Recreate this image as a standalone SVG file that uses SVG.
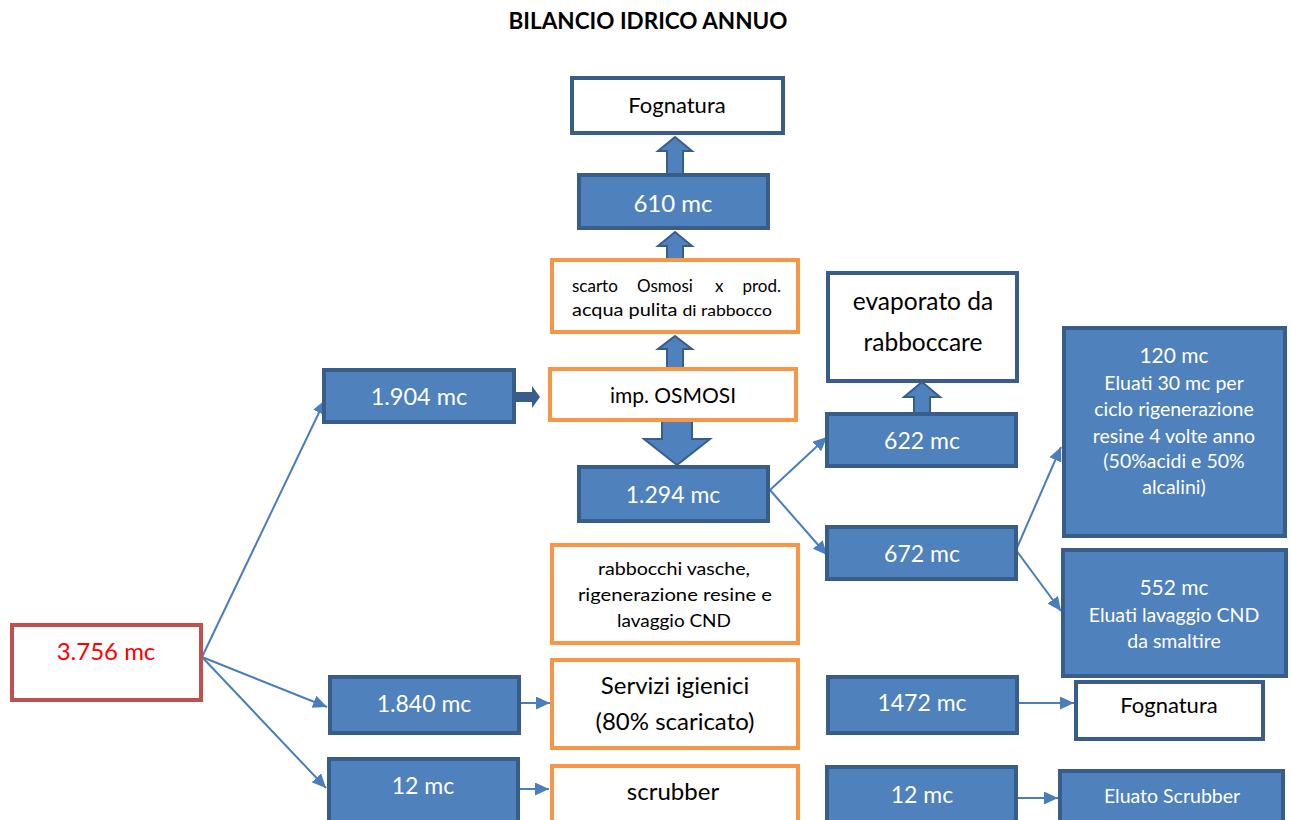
<svg xmlns="http://www.w3.org/2000/svg" width="1291" height="820" viewBox="0 0 1291 820">
  <style>
    text { font-family: Lato, "Liberation Sans", sans-serif; text-anchor: middle; }
    .blue { fill: #4F81BD; stroke: #385D8A; stroke-width: 4; }
    .white { fill: #FFFFFF; stroke: #385D8A; stroke-width: 4; }
    .orange { fill: #FFFFFF; stroke: #F79646; stroke-width: 4; }
    .red { fill: #FFFFFF; stroke: #C0504D; stroke-width: 4; }
    .wt { fill: #FFFFFF; }
    .bk { fill: #000000; }
    .blk { fill: #4F81BD; stroke: #385D8A; stroke-width: 2; }
    .conn { stroke: #4A7EBB; stroke-width: 2; fill: none; marker-end: url(#head); }
  </style>
  <defs>
    <marker id="head" markerUnits="userSpaceOnUse" markerWidth="16" markerHeight="14" refX="14" refY="6.5" orient="auto">
      <path d="M0,0 L14,6.5 L0,13 Z" fill="#4A7EBB"/>
    </marker>
  </defs>

  <text x="648" y="29" font-size="22.5" font-weight="bold" class="bk">BILANCIO IDRICO ANNUO</text>

  <!-- connectors -->
  <g id="connectors">
    <line class="conn" x1="202" y1="657" x2="325" y2="400"/>
    <line class="conn" x1="202" y1="657" x2="327" y2="707"/>
    <line class="conn" x1="202" y1="657" x2="326" y2="788"/>
    <line class="conn" x1="521" y1="703" x2="550" y2="703"/>
    <line class="conn" x1="520" y1="789" x2="549" y2="789"/>
    <line class="conn" x1="770" y1="490" x2="827" y2="437"/>
    <line class="conn" x1="770" y1="490" x2="827" y2="555"/>
    <line class="conn" x1="1016" y1="550" x2="1061" y2="447"/>
    <line class="conn" x1="1016" y1="550" x2="1061" y2="611"/>
    <line class="conn" x1="1019" y1="703" x2="1074" y2="703"/>
    <line class="conn" x1="1007" y1="798" x2="1058" y2="798"/>
    <!-- block arrows -->
    <path class="blk" d="M675,137 L692,151 L683,151 L683,174 L667,174 L667,151 L658,151 Z"/>
    <path class="blk" d="M675,232 L692,246 L683,246 L683,260 L667,260 L667,246 L658,246 Z"/>
    <path class="blk" d="M675,336 L692,349 L683,349 L683,369 L667,369 L667,349 L658,349 Z"/>
    <path class="blk" d="M922,382 L940,397 L930,397 L930,414 L914,414 L914,397 L904,397 Z"/>
    <path class="blk" d="M662,421 L692,421 L692,439 L710,439 L677,465 L644,439 L662,439 Z"/>
    <path d="M516,392 L532,392 L532,386 L540,397 L532,408 L532,402 L516,402 Z" fill="#385D8A"/>
  </g>

  <g id="fognatura-top">
    <rect class="white" x="572" y="78" width="211" height="55"/>
    <text x="677" y="113" font-size="22" class="bk">Fognatura</text>
  </g>
  <g id="n610">
    <rect class="blue" x="579" y="175" width="189" height="53"/>
    <text x="673" y="212" font-size="24" class="wt">610 mc</text>
  </g>
  <g id="scarto">
    <rect class="orange" x="552" y="260" width="246" height="72"/>
    <text y="292" font-size="17" class="bk" style="text-anchor:start"><tspan x="572">scarto</tspan><tspan x="637">Osmosi</tspan><tspan x="715">x</tspan></text>
    <text x="781" y="292" font-size="17" class="bk" style="text-anchor:end">prod.</text>
    <text x="572" y="316" font-size="17" class="bk" style="text-anchor:start" textLength="200" lengthAdjust="spacingAndGlyphs">acqua pulita <tspan font-size="15">di rabbocco</tspan></text>
  </g>
  <g id="osmosi">
    <rect class="orange" x="550" y="369" width="246" height="51"/>
    <text x="673" y="403" font-size="21" class="bk">imp. OSMOSI</text>
  </g>
  <g id="n1294">
    <rect class="blue" x="579" y="467" width="189" height="54"/>
    <text x="673" y="503" font-size="23" class="wt">1.294 mc</text>
  </g>
  <g id="n1904">
    <rect class="blue" x="324" y="370" width="190" height="52"/>
    <text x="419" y="405" font-size="23.5" class="wt">1.904 mc</text>
  </g>
  <g id="evaporato">
    <rect class="white" x="828" y="273" width="189" height="108"/>
    <text x="923" y="310" font-size="24.5" class="bk">evaporato da</text>
    <text x="923" y="351" font-size="24.5" class="bk">rabboccare</text>
  </g>
  <g id="n622">
    <rect class="blue" x="827" y="414" width="189" height="52"/>
    <text x="922" y="449" font-size="23" class="wt">622 mc</text>
  </g>
  <g id="n672">
    <rect class="blue" x="827" y="527" width="189" height="52"/>
    <text x="922" y="562" font-size="23" class="wt">672 mc</text>
  </g>
  <g id="n120">
    <rect class="blue" x="1064" y="328" width="221" height="208"/>
    <text x="1174" y="363" font-size="21" class="wt">120 mc</text>
    <text x="1174" y="390" font-size="19.5" class="wt">Eluati 30 mc per</text>
    <text x="1174" y="416" font-size="19.5" class="wt">ciclo rigenerazione</text>
    <text x="1174" y="443" font-size="19.5" class="wt">resine 4 volte anno</text>
    <text x="1174" y="468" font-size="19.5" class="wt">(50%acidi e 50%</text>
    <text x="1174" y="494" font-size="19.5" class="wt">alcalini)</text>
  </g>
  <g id="n552">
    <rect class="blue" x="1063" y="550" width="223" height="126"/>
    <text x="1174" y="595" font-size="21" class="wt">552 mc</text>
    <text x="1174" y="622" font-size="19.5" class="wt">Eluati lavaggio CND</text>
    <text x="1174" y="648" font-size="19.5" class="wt">da smaltire</text>
  </g>
  <g id="rabbocchi">
    <rect class="orange" x="552" y="545" width="246" height="98"/>
    <text x="598" y="575" font-size="17.5" class="bk" style="text-anchor:start" textLength="152" lengthAdjust="spacingAndGlyphs">rabbocchi vasche,</text>
    <text x="578" y="601" font-size="17.5" class="bk" style="text-anchor:start" textLength="194" lengthAdjust="spacingAndGlyphs">rigenerazione resine e</text>
    <text x="617" y="627" font-size="17.5" class="bk" style="text-anchor:start" textLength="114" lengthAdjust="spacingAndGlyphs">lavaggio CND</text>
  </g>
  <g id="servizi">
    <rect class="orange" x="552" y="660" width="246" height="88"/>
    <text x="675" y="694" font-size="24" class="bk">Servizi igienici</text>
    <text x="675" y="730" font-size="24" class="bk">(80% scaricato)</text>
  </g>
  <g id="scrubber">
    <rect class="orange" x="552" y="766" width="246" height="70"/>
    <text x="673" y="800" font-size="24" class="bk">scrubber</text>
  </g>
  <g id="n3756">
    <rect class="red" x="12" y="625" width="189" height="75"/>
    <text x="106" y="660" font-size="24" fill="#FF0000">3.756 mc</text>
  </g>
  <g id="n1840">
    <rect class="blue" x="330" y="677" width="189" height="56"/>
    <text x="424" y="712" font-size="23" class="wt">1.840 mc</text>
  </g>
  <g id="n12-left">
    <rect class="blue" x="329" y="759" width="189" height="70"/>
    <text x="423" y="794" font-size="23" class="wt">12 mc</text>
  </g>
  <g id="n1472">
    <rect class="blue" x="828" y="677" width="189" height="56"/>
    <text x="922" y="711" font-size="23" class="wt">1472 mc</text>
  </g>
  <g id="fognatura-bottom">
    <rect class="white" x="1076" y="682" width="187" height="57"/>
    <text x="1169" y="713" font-size="22" class="bk">Fognatura</text>
  </g>
  <g id="n12-right">
    <rect class="blue" x="827" y="767" width="189" height="60"/>
    <text x="922" y="803" font-size="23" class="wt">12 mc</text>
  </g>
  <g id="eluato-scrubber">
    <rect class="blue" x="1060" y="771" width="223" height="60"/>
    <text x="1172" y="803" font-size="19.5" class="wt">Eluato Scrubber</text>
  </g>
</svg>
